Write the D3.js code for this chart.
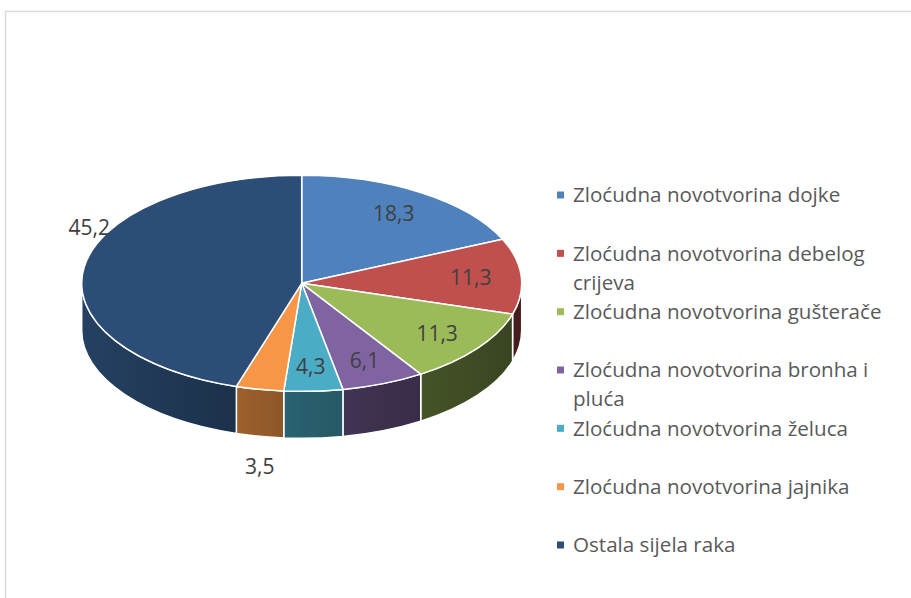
<!DOCTYPE html>
<html>
<head>
<meta charset="utf-8">
<script src="https://cdn.jsdelivr.net/npm/d3@7"></script>
<style>
  html, body { margin: 0; padding: 0; background: #ffffff; }
  svg { display: block; }
</style>
</head>
<body>
<svg id="chart" width="911" height="598"></svg>
<script>
// ---- data ----
const categories = [
  "Zloćudna novotvorina dojke",
  "Zloćudna novotvorina debelog crijeva",
  "Zloćudna novotvorina gušterače",
  "Zloćudna novotvorina bronha i pluća",
  "Zloćudna novotvorina želuca",
  "Zloćudna novotvorina jajnika",
  "Ostala sijela raka"
];
const values = [18.3, 11.3, 11.3, 6.1, 4.3, 3.5, 45.2];
const valueLabels = ["18,3", "11,3", "11,3", "6,1", "4,3", "3,5", "45,2"];
const colors = ["#4f81bd", "#c0504d", "#9bbb59", "#8064a2", "#4bacc6", "#f79646", "#2c4d75"];
const labelOutside = [false, false, false, false, false, true, true];

// ---- layout ----
const svg = d3.select("#chart");
const W = 911, H = 598;
const cx = 301.7, cy = 283.3, rx = 220, ry = 108, depth = 47;
const FONT = "'Open Sans', 'DejaVu Sans', sans-serif";

// frame
svg.append("path")
  .attr("d", `M5.5,${H} L5.5,11.5 L${W},11.5`)
  .attr("fill", "none").attr("stroke", "#d9d9d9").attr("stroke-width", 1.5);

const color = d3.scaleOrdinal().domain(categories).range(colors);
const pie = d3.pie().sort(null).value(d => d.value).startAngle(0).endAngle(2 * Math.PI);
const data = categories.map((c, i) => ({ cat: c, value: values[i], label: valueLabels[i], outside: labelOutside[i] }));
const arcs = pie(data);

const pt = (a, k = 1, dy = 0) => [cx + rx * k * Math.sin(a), cy - ry * k * Math.cos(a) + dy];

// gradients for side walls
const defs = svg.append("defs");
function scaleColor(c, f) {
  const r = d3.rgb(c);
  return d3.rgb(r.r * f, r.g * f, r.b * f).formatHex();
}
arcs.forEach((d, i) => {
  const g = defs.append("linearGradient")
    .attr("id", "side" + i).attr("gradientUnits", "userSpaceOnUse")
    .attr("x1", cx - rx).attr("x2", cx + rx).attr("y1", 0).attr("y2", 0);
  g.append("stop").attr("offset", 0).attr("stop-color", scaleColor(color(d.data.cat), 0.84));
  g.append("stop").attr("offset", 0.5).attr("stop-color", scaleColor(color(d.data.cat), 0.55));
  g.append("stop").attr("offset", 1).attr("stop-color", scaleColor(color(d.data.cat), 0.36));
});

// side walls (front half only: angles between PI/2 and 3PI/2)
const sides = svg.append("g");
arcs.forEach((d, i) => {
  const s = Math.max(d.startAngle, Math.PI / 2);
  const e = Math.min(d.endAngle, 3 * Math.PI / 2);
  if (e <= s) return;
  const p0 = pt(s), p1 = pt(e), q1 = pt(e, 1, depth), q0 = pt(s, 1, depth);
  const large = (e - s) > Math.PI ? 1 : 0;
  const path = `M${p0} A${rx},${ry} 0 ${large} 1 ${p1} L${q1} A${rx},${ry} 0 ${large} 0 ${q0} Z`;
  sides.append("path").attr("d", path)
    .attr("fill", `url(#side${i})`)
    .attr("stroke", "#ffffff").attr("stroke-width", 1.5).attr("stroke-linejoin", "round");
});

// top faces
const tops = svg.append("g");
arcs.forEach((d) => {
  const p0 = pt(d.startAngle), p1 = pt(d.endAngle);
  const large = (d.endAngle - d.startAngle) > Math.PI ? 1 : 0;
  const path = `M${cx},${cy} L${p0} A${rx},${ry} 0 ${large} 1 ${p1} Z`;
  tops.append("path").attr("d", path)
    .attr("fill", color(d.data.cat))
    .attr("stroke", "#ffffff").attr("stroke-width", 1.5).attr("stroke-linejoin", "round");
});

// data labels
const labelNudge = { "Zloćudna novotvorina jajnika": [0, 30], "Ostala sijela raka": [5, -39] };
const labels = svg.append("g")
  .attr("font-family", FONT).attr("font-size", 21).attr("fill", "#404040");
arcs.forEach((d) => {
  const mid = (d.startAngle + d.endAngle) / 2;
  let p;
  if (!d.data.outside) {
    p = pt(mid, 0.77);
  } else {
    const front = Math.cos(mid) < 0;
    p = pt(mid, 1, front ? depth : 0);
    const n = labelNudge[d.data.cat] || [0, 0];
    p = [p[0] + n[0], p[1] + n[1]];
  }
  labels.append("text")
    .attr("x", p[0]).attr("y", p[1])
    .attr("text-anchor", "middle").attr("dy", "0.35em")
    .text(d.data.label);
});

// legend
const legX = 560.5, legTextX = 573, legY0 = 195, legStep = 58.33, lineH = 29, maxW = 335;
const legend = svg.append("g")
  .attr("font-family", FONT).attr("font-size", 20.6).attr("fill", "#595959");
categories.forEach((c, i) => {
  const y = legY0 + i * legStep;
  legend.append("rect")
    .attr("x", legX - 3.5).attr("y", y - 3.5).attr("width", 7).attr("height", 7)
    .attr("fill", color(c));
  const t = legend.append("text").attr("x", legTextX).attr("y", y);
  const words = c.split(" ");
  let line = [];
  let lineNo = 0;
  let tspan = t.append("tspan").attr("x", legTextX).attr("dy", "0.35em");
  words.forEach(w => {
    line.push(w);
    tspan.text(line.join(" "));
    if (tspan.node().getComputedTextLength() > maxW && line.length > 1) {
      line.pop();
      tspan.text(line.join(" "));
      line = [w];
      lineNo++;
      tspan = t.append("tspan").attr("x", legTextX).attr("y", y + lineNo * lineH).attr("dy", "0.35em").text(w);
    }
  });
});
</script>
</body>
</html>
